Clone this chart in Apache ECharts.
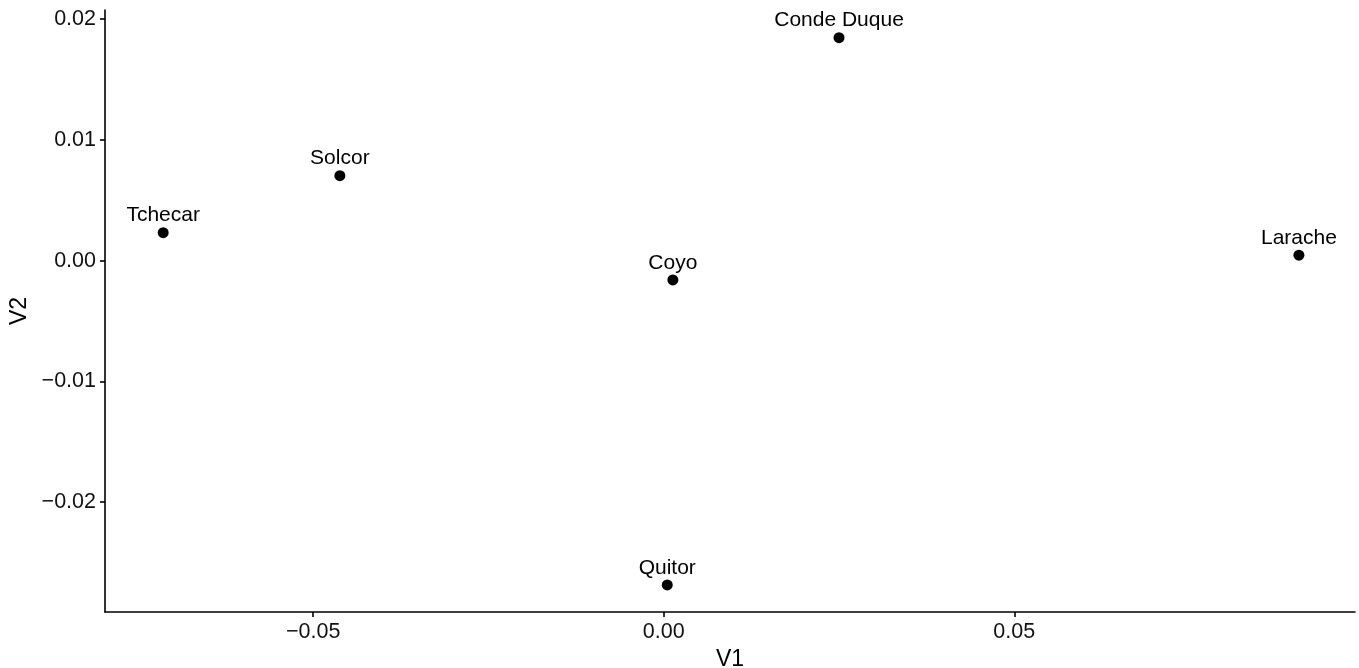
<!DOCTYPE html>
<html>
<head>
<meta charset="utf-8">
<script src="https://cdn.jsdelivr.net/npm/echarts@6/dist/echarts.min.js"></script>
<style>
  html, body { margin: 0; padding: 0; background: #fff; }
  #chart { width: 1359px; height: 668px; }
</style>
</head>
<body>
<div id="chart"></div>
<script>
// Site names and their coordinates on the two ordination axes
const sites = ['Conde Duque', 'Solcor', 'Tchecar', 'Coyo', 'Larache', 'Quitor'];
const v1 = [0.0250, -0.0462, -0.0714, 0.0013, 0.0906, 0.0005];
const v2 = [0.01847, 0.00704, 0.00232, -0.0016, 0.00045, -0.02686];

// Tick positions on each axis
const xTicks = [-0.05, 0, 0.05];
const yTicks = [-0.02, -0.01, 0, 0.01, 0.02];

const fmt = v => (v < 0 ? '\u2212' : '') + Math.abs(v).toFixed(2);

const points = sites.map((name, i) => ({ name: name, value: [v1[i], v2[i]] }));

const font = 'Liberation Sans, Arial, Helvetica, sans-serif';
const axisCommon = {
  type: 'value',
  nameLocation: 'middle',
  nameTextStyle: { color: '#000', fontSize: 23, fontFamily: font },
  axisLine: { show: true, onZero: false, lineStyle: { color: '#000', width: 1.6 } },
  axisTick: { show: true, length: 5, lineStyle: { color: '#000', width: 1.6 } },
  axisLabel: { color: '#111', fontSize: 21.5, fontFamily: font, margin: 9, formatter: fmt },
  splitLine: { show: false }
};

const chart = echarts.init(document.getElementById('chart'), null, { renderer: 'canvas' });
chart.setOption({
  animation: false,
  backgroundColor: '#fff',
  grid: { left: 105, right: 4, top: 10, bottom: 56, containLabel: false, outerBoundsMode: 'none' },
  xAxis: Object.assign({}, axisCommon, {
    name: 'V1',
    nameGap: 35,
    min: -0.0797,
    max: 0.0986,
    axisTick: Object.assign({}, axisCommon.axisTick, { customValues: xTicks }),
    axisLabel: Object.assign({}, axisCommon.axisLabel, { customValues: xTicks })
  }),
  yAxis: Object.assign({}, axisCommon, {
    name: 'V2',
    nameGap: 74,
    min: -0.0291,
    max: 0.02076,
    axisTick: Object.assign({}, axisCommon.axisTick, { customValues: yTicks }),
    axisLabel: Object.assign({}, axisCommon.axisLabel, { customValues: yTicks })
  }),
  series: [{
    type: 'scatter',
    data: points,
    symbol: 'circle',
    symbolSize: 11,
    itemStyle: { color: '#000', opacity: 1 },
    label: {
      show: true,
      position: 'top',
      distance: 1,
      formatter: p => p.name,
      color: '#000',
      fontSize: 21,
      fontFamily: font
    }
  }]
});
</script>
</body>
</html>
